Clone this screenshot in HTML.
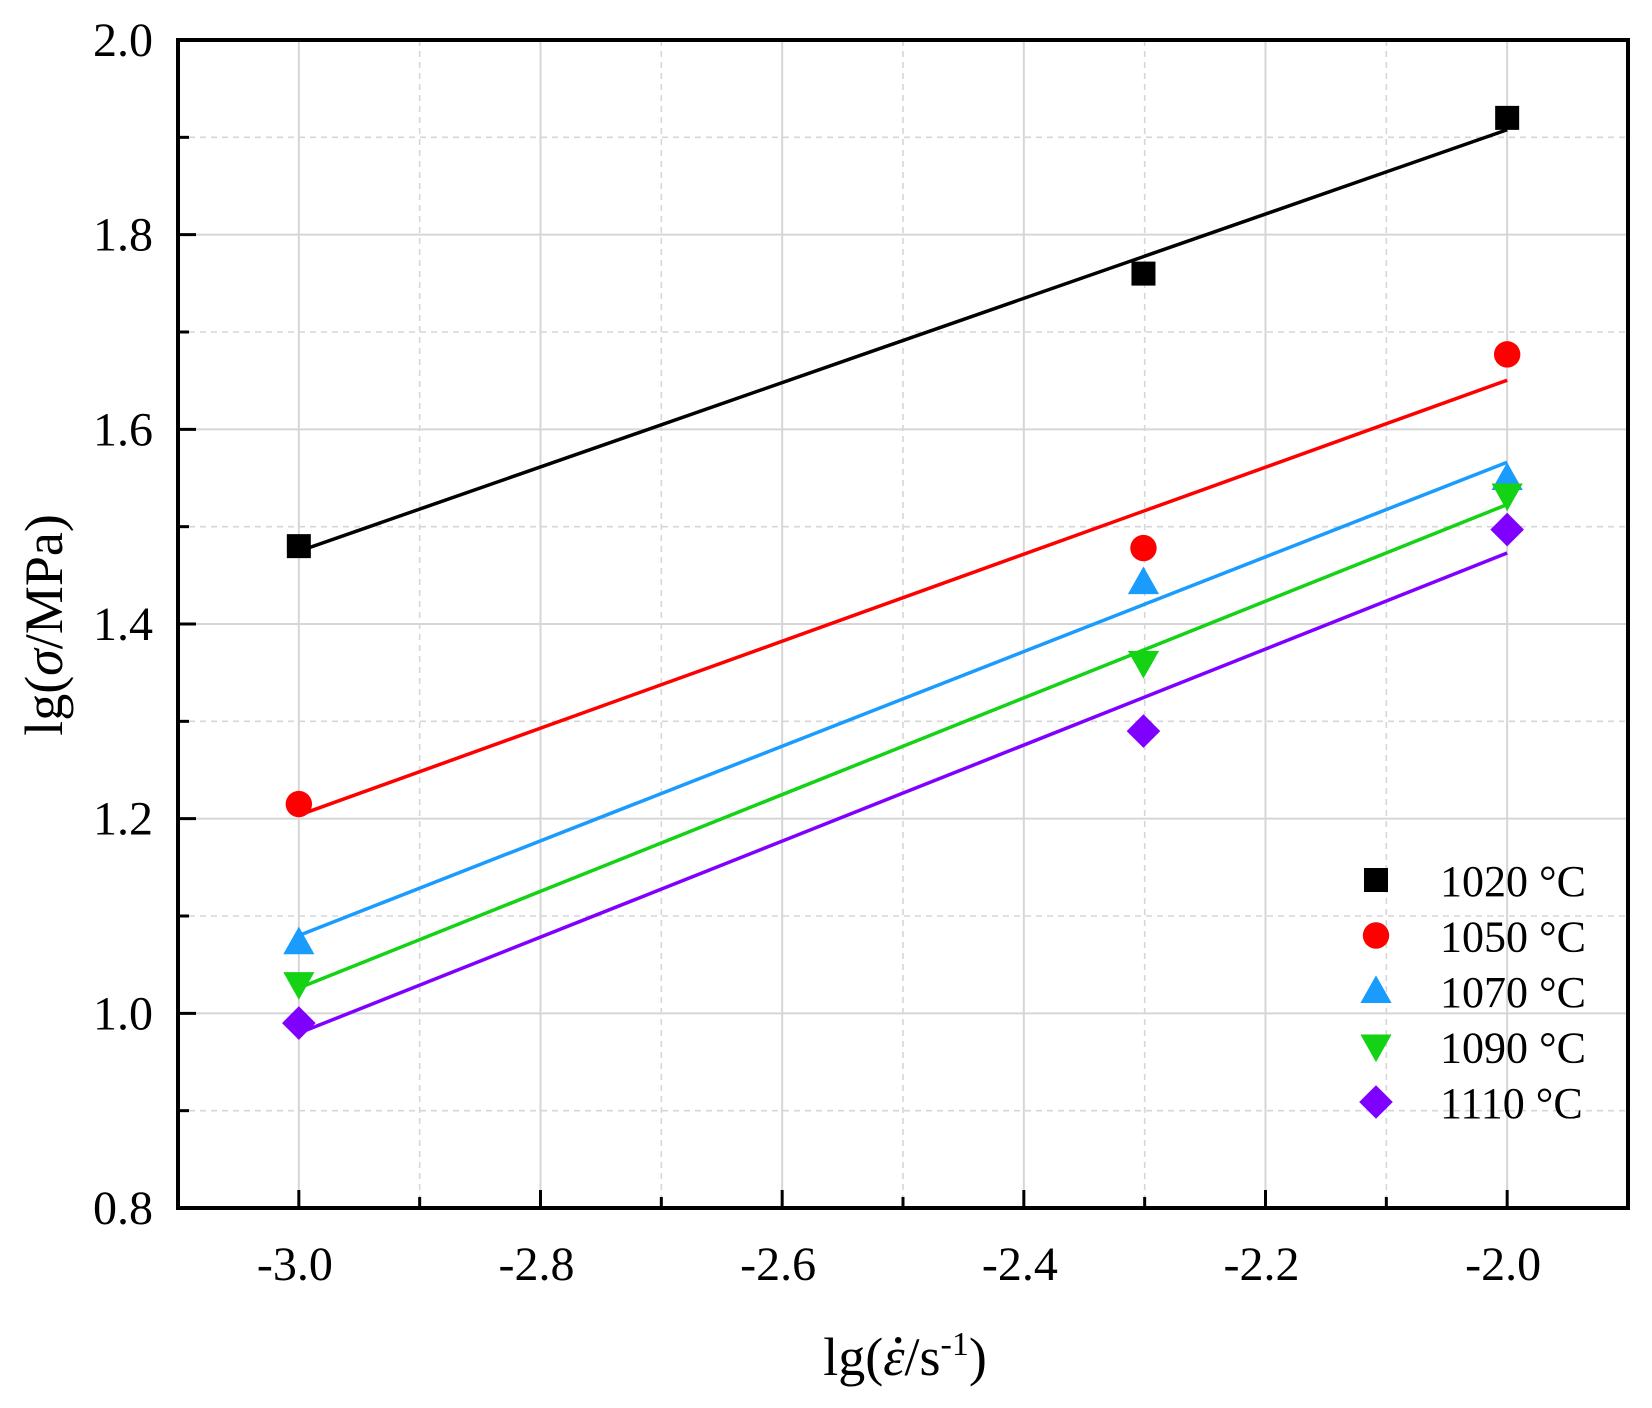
<!DOCTYPE html>
<html><head><meta charset="utf-8"><style>
html,body{margin:0;padding:0;background:#fff;}
svg{display:block;font-family:"Liberation Serif",serif;}
</style></head><body>
<svg id="chart" width="1652" height="1408" viewBox="0 0 1652 1408" xmlns="http://www.w3.org/2000/svg">
<g id="grid"></g>
<g id="lines"></g>
<g id="marks"></g>
<rect x="178" y="40" width="1450" height="1168" fill="none" stroke="#000" stroke-width="4"/>
<g id="ticks"></g>
<text x="62" y="625" font-size="54" text-anchor="middle" transform="rotate(-90 62 625)">lg(<tspan font-style="italic">σ</tspan>/MPa)</text>
<text id="xt" x="905" y="1375" font-size="54" text-anchor="middle">lg(<tspan id="eps" font-style="italic">ε</tspan>/s<tspan dy="-20" font-size="34">-1</tspan><tspan dy="20">)</tspan></text>
<g id="legend"></g>
</svg>
<script>
const xVals = [-3.0, -2.301, -2.0];
const seriesNames = ["1020 °C","1050 °C","1070 °C","1090 °C","1110 °C"];
const s1020 = [1.48, 1.76, 1.92];
const s1050 = [1.215, 1.478, 1.677];
const s1070 = [1.073, 1.443, 1.55];
const s1090 = [1.03, 1.36, 1.532];
const s1110 = [0.99, 1.29, 1.497];
const xTicks = ["-3.0","-2.8","-2.6","-2.4","-2.2","-2.0"];
const yTicks = ["0.8","1.0","1.2","1.4","1.6","1.8","2.0"];

const series=[s1020,s1050,s1070,s1090,s1110];
const colors=["#000000","#ff0000","#1a9cff","#14d214","#8000ff"];
const shapes=["square","circle","up","down","diamond"];
const X0=-3.1,X1=-1.9,Y0=0.8,Y1=2.0,L=178,R=1628,T=40,B=1208;
const sx=v=>L+(v-X0)/(X1-X0)*(R-L);
const sy=v=>B-(v-Y0)/(Y1-Y0)*(B-T);
const NS="http://www.w3.org/2000/svg";
function mk(t,a,p){const e=document.createElementNS(NS,t);for(const k in a)e.setAttribute(k,a[k]);p.appendChild(e);return e;}
const grid=document.getElementById('grid'),ticks=document.getElementById('ticks');
for(let i=0;i<=12;i++){
  const v=X0+i*0.1;const x=sx(v);const major=(i%2===1);
  if(i>0&&i<12){
    const g=mk('line',{x1:x,x2:x,y1:T,y2:B,stroke:'#d6d6d6','stroke-width':major?2:1.6,'stroke-dasharray':major?'':'6 5'},grid);
    
    const t=mk('line',{x1:x,x2:x,y1:B,y2:B-(major?18:11),stroke:'#000','stroke-width':3},ticks);
    
  }
}
xTicks.forEach(s=>{const tx=mk('text',{x:sx(parseFloat(s))-4,y:1280,'font-size':48,'text-anchor':'middle'},ticks);tx.textContent=s;
  });
for(let i=1;i<12;i++){
  const v=Y0+i*0.1;const y=sy(v);const major=(i%2===0);
  const g=mk('line',{x1:L,x2:R,y1:y,y2:y,stroke:'#d6d6d6','stroke-width':major?2:1.6,'stroke-dasharray':major?'':'6 5'},grid);
  
  const t=mk('line',{x1:L,x2:L+(major?18:11),y1:y,y2:y,stroke:'#000','stroke-width':3},ticks);
  
}
yTicks.forEach(s=>{const tx=mk('text',{x:153,y:sy(parseFloat(s))+16,'font-size':48,'text-anchor':'end'},ticks);tx.textContent=s;
  });
function marker(shape,cx,cy,c,p,r){
  let e;
  if(shape==='square')e=mk('rect',{x:cx-r,y:cy-r,width:2*r,height:2*r,fill:c},p);
  else if(shape==='circle')e=mk('circle',{cx:cx,cy:cy,r:r*1.1,fill:c},p);
  else if(shape==='up')e=mk('polygon',{points:`${cx-r*1.3},${cy+r} ${cx+r*1.3},${cy+r} ${cx},${cy-r*1.3}`,fill:c},p);
  else if(shape==='down')e=mk('polygon',{points:`${cx-r*1.3},${cy-r} ${cx+r*1.3},${cy-r} ${cx},${cy+r*1.3}`,fill:c},p);
  else e=mk('polygon',{points:`${cx},${cy-r*1.4} ${cx+r*1.4},${cy} ${cx},${cy+r*1.4} ${cx-r*1.4},${cy}`,fill:c},p);
  return e;
}
const lines=document.getElementById('lines'),marks=document.getElementById('marks'),leg=document.getElementById('legend');
series.forEach((ys,k)=>{
  const n=xVals.length;let mx=0,my=0;for(let i=0;i<n;i++){mx+=xVals[i];my+=ys[i];}mx/=n;my/=n;
  let sxy=0,sxx=0;for(let i=0;i<n;i++){sxy+=(xVals[i]-mx)*(ys[i]-my);sxx+=(xVals[i]-mx)**2;}
  const b=sxy/sxx,a=my-b*mx;
  const ln=mk('line',{x1:sx(-3),y1:sy(a+b*-3),x2:sx(-2),y2:sy(a+b*-2),stroke:colors[k],'stroke-width':3.5},lines);
  
  xVals.forEach((xv,i)=>{const m=marker(shapes[k],sx(xv),sy(ys[i]),colors[k],marks,12);
    });
  const ly=880+k*55.5;
  const lm=marker(shapes[k],1376,ly,colors[k],leg,12);
  
  const lt=mk('text',{x:1440,y:ly+16,'font-size':44},leg);lt.textContent=seriesNames[k];
  
});
// dot over epsilon
const eps=document.getElementById('eps');
try{const bb=eps.getBBox();
const d=mk('circle',{cx:bb.x+bb.width/2+4,cy:bb.y+bb.height*0.22,r:3.2,fill:'#000'},document.getElementById('chart'));
}catch(e){}
</script>
</body></html>
